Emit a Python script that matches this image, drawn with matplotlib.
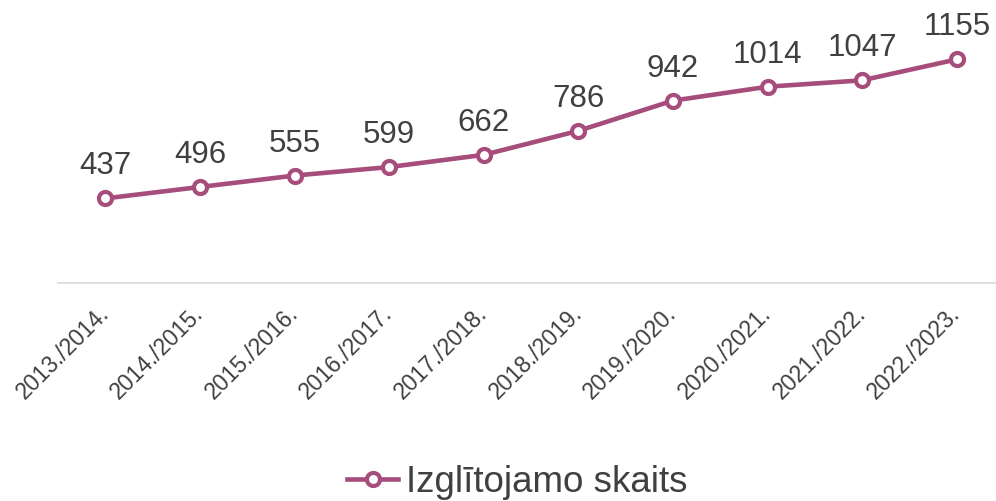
import matplotlib.pyplot as plt

years = ['2013./2014.', '2014./2015.', '2015./2016.', '2016./2017.', '2017./2018.',
         '2018./2019.', '2019./2020.', '2020./2021.', '2021./2022.', '2022./2023.']
students = [437, 496, 555, 599, 662, 786, 942, 1014, 1047, 1155]
series_name = 'Izglītojamo skaits'

line_color = '#A64D7B'
text_color = '#404040'

plt.rcParams['font.family'] = ['Liberation Sans', 'DejaVu Sans']

fig = plt.figure(figsize=(9.96, 5.02), dpi=100)
# plot area in pixels: x 58..1004, y 13..284 (from top)
ax = fig.add_axes([58 / 996, (502 - 284) / 502, 946 / 996, 271 / 502])

x = list(range(len(years)))
ax.plot(x, students, color=line_color, linewidth=3.3, marker='o', markersize=9.4,
        markerfacecolor='white', markeredgecolor=line_color, markeredgewidth=3.0,
        label=series_name, clip_on=False, zorder=3)

for xi, v in zip(x, students):
    ax.annotate(str(v), (xi, v), xytext=(0, 18), textcoords='offset points',
                ha='center', va='baseline', fontsize=22.5, color=text_color)

ax.set_xlim(-0.5, len(years) - 0.5)
ax.set_ylim(0, 1400)
ax.set_xticks(x)
ax.set_xticklabels(years, rotation=45, ha='right', va='center', rotation_mode='anchor',
                   fontsize=16.5, color=text_color)
ax.tick_params(axis='x', length=0, pad=19)
ax.set_yticks([])

for side in ['left', 'right', 'top']:
    ax.spines[side].set_visible(False)
ax.spines['bottom'].set_color('#D9D9D9')
ax.spines['bottom'].set_linewidth(1.2)

leg = fig.legend(loc='center', bbox_to_anchor=(517 / 996, 1 - 483 / 502), frameon=False,
                 fontsize=26.5, handlelength=1.4, handletextpad=0.2, labelcolor=text_color)

plt.savefig('out.png', dpi=100)
